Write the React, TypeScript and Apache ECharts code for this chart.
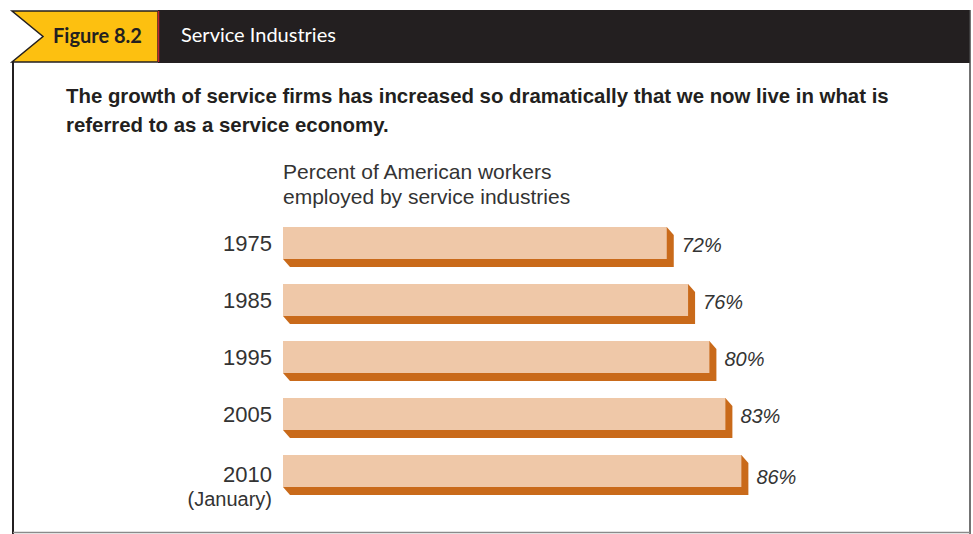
import React, { useEffect, useRef } from "react";
import * as echarts from "echarts";

const categories = ["1975", "1985", "1995", "2005", "2010"];
const categoryNotes = ["", "", "", "", "(January)"];
const percentValues = [72, 76, 80, 83, 86];
const figureLabel = "Figure 8.2";
const figureTitle = "Service Industries";
const subtitleLines = [
  "The growth of service firms has increased so dramatically that we now live in what is",
  "referred to as a service economy.",
];
const axisTitleLines = ["Percent of American workers", "employed by service industries"];

const LIGHT = "#efc8a8";
const DARK = "#c96a1a";
const INK = "#231f20";
const SANS = "'Liberation Sans', Arial, sans-serif";

export default function App() {
  const ref = useRef<HTMLDivElement>(null);
  useEffect(() => {
    if (!ref.current) return;
    const chart = echarts.init(ref.current, undefined, { renderer: "svg" });
    const data = percentValues.map((v, i) => [v, i]);
    chart.setOption({
      animation: false,
      backgroundColor: "#ffffff",
      grid: { left: 283, top: 214.5, width: 533, height: 285 },
      xAxis: { type: "value", min: 0, max: 100, show: false },
      yAxis: { type: "category", data: categories, inverse: true, show: false },
      graphic: [
        { type: "rect", shape: { x: 158, y: 10, width: 812, height: 53 }, style: { fill: INK } },
        {
          type: "polygon",
          shape: { points: [[12, 11], [158, 11], [158, 62], [12, 62], [43, 36.5]] },
          style: { fill: "#fdc010", stroke: INK, lineWidth: 1.5 },
        },
        { type: "line", shape: { x1: 158.5, y1: 11, x2: 158.5, y2: 62 }, style: { stroke: "#c0272d", lineWidth: 1.5 } },
        { type: "line", shape: { x1: 13, y1: 62, x2: 13, y2: 534 }, style: { stroke: INK, lineWidth: 2 } },
        { type: "line", shape: { x1: 970, y1: 10, x2: 970, y2: 534 }, style: { stroke: "#444", lineWidth: 1.5 } },
        { type: "line", shape: { x1: 13, y1: 532.5, x2: 970, y2: 532.5 }, style: { stroke: "#8a8a8a", lineWidth: 1.5 } },
        {
          type: "text",
          style: { text: figureLabel, x: 53, y: 35, verticalAlign: "middle", fill: INK, fontFamily: "Lato, sans-serif", fontWeight: "bold", fontSize: 20 },
        },
        {
          type: "text",
          style: { text: figureTitle, x: 181, y: 34, verticalAlign: "middle", fill: "#ffffff", fontFamily: "Lato, sans-serif", fontSize: 20 },
        },
        ...subtitleLines.map((t, i) => ({
          type: "text",
          style: { text: t, x: 66, y: 96 + i * 29, verticalAlign: "middle", fill: INK, fontFamily: SANS, fontWeight: "bold", fontSize: 20.4 },
        })),
        ...axisTitleLines.map((t, i) => ({
          type: "text",
          style: { text: t, x: 283, y: 171 + i * 25, verticalAlign: "middle", fill: "#333", fontFamily: SANS, fontSize: 21 },
        })),
      ],
      series: [
        {
          type: "custom",
          data,
          encode: { x: 0, y: 1 },
          renderItem: (params: any, api: any) => {
            const v = api.value(0);
            const idx = api.value(1);
            const s = api.coord([0, idx]);
            const e = api.coord([v, idx]);
            const x0 = s[0];
            const x1 = e[0];
            const cy = s[1];
            const y0 = cy - 16;
            const y1 = cy + 16;
            const dx = 7;
            const dy = 8;
            const note = categoryNotes[idx];
            const children: any[] = [
              {
                type: "polygon",
                shape: { points: [[x0, y0], [x1, y0], [x1 + dx, y0 + dy], [x1 + dx, y1 + dy], [x0 + dx, y1 + dy], [x0, y1]] },
                style: { fill: DARK },
              },
              { type: "rect", shape: { x: x0, y: y0, width: x1 - x0, height: y1 - y0 }, style: { fill: LIGHT } },
              {
                type: "text",
                style: { text: categories[idx], x: x0 - 11, y: note ? cy + 3 : cy + 0.5, align: "right", verticalAlign: "middle", fill: "#333", fontFamily: SANS, fontSize: 22 },
              },
              {
                type: "text",
                style: { text: v + "%", x: x1 + 15, y: note ? cy + 6 : cy + 1.5, align: "left", verticalAlign: "middle", fill: "#333", fontFamily: SANS, fontStyle: "italic", fontSize: 20 },
              },
            ];
            if (note) {
              children.push({
                type: "text",
                style: { text: note, x: x0 - 11, y: cy + 28, align: "right", verticalAlign: "middle", fill: "#333", fontFamily: SANS, fontSize: 20 },
              });
            }
            return { type: "group", children };
          },
        },
      ],
    });
    return () => chart.dispose();
  }, []);
  return <div ref={ref} style={{ position: "absolute", left: 0, top: 0, width: 973, height: 534 }} />;
}
